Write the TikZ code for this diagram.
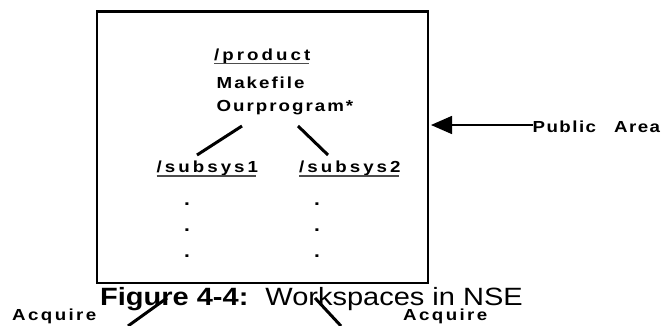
\documentclass[tikz,border=0pt]{standalone}
\usepackage{fontspec}
\setmainfont{Liberation Sans}[FakeStretch=1.16]
\newfontfamily\dirfont[LetterSpace=19,FakeStretch=1.17]{Liberation Sans}
\newfontfamily\filefont[LetterSpace=12.5,FakeStretch=1.17]{Liberation Sans}
\newfontfamily\pafont[LetterSpace=9,FakeStretch=1.17]{Liberation Sans}
\newfontfamily\acqfont[LetterSpace=15,FakeStretch=1.17]{Liberation Sans}
\usetikzlibrary{arrows.meta}
\begin{document}
\begin{tikzpicture}[x=1pt,y=-1pt,
  lbl/.style={font=\dirfont\bfseries\fontsize{16}{18}\selectfont, inner sep=0, anchor=base west},
  filelbl/.style={font=\filefont\bfseries\fontsize{16}{18}\selectfont, inner sep=0, anchor=base west},
  acqlbl/.style={font=\acqfont\bfseries\fontsize{16}{18}\selectfont, inner sep=0, anchor=base west},
  ulline/.style={draw=black!70, line width=1.8pt},
  thick line/.style={line width=3pt},
  dotnode/.style={font=\bfseries\fontsize{18}{20}\selectfont, inner sep=0, anchor=base}]
\useasboundingbox (0,0) rectangle (665,325);
\fill[white] (0,0) rectangle (665,325);
% box
\node (box) [draw, line width=2.7pt, minimum width=331pt, minimum height=271.5pt, inner sep=0] at (262.5,147.25) {};
% texts
\node (prod) [lbl] at (214,60) {/product};
\node (make) [filelbl] at (216.5,88.3) {Makefile};
\node (prog) [filelbl] at (216.5,111.7) {Ourprogram*};
\node (s1) [lbl] at (156.5,172.7) {/subsys1};
\node (s2) [lbl] at (299,172.7) {/subsys2};
\draw[ulline] ([yshift=-3.4pt]prod.base west) -- ([yshift=-3.4pt,xshift=-2pt]prod.base east);
\draw[ulline] ([yshift=-3.4pt]s1.base west) -- ([yshift=-3.4pt,xshift=-2pt]s1.base east);
\draw[ulline] ([yshift=-3.4pt]s2.base west) -- ([yshift=-3.4pt,xshift=-2pt]s2.base east);
% tree lines
\coordinate (l1a) at (242,126); \coordinate (l1b) at (197,155);
\coordinate (l2a) at (298,126); \coordinate (l2b) at (328,155);
\draw[thick line] (l1a) -- (l1b);
\draw[thick line] (l2a) -- (l2b);
% dots
\foreach \y [count=\i] in {205,231,257} {
  \node (da\i) [dotnode] at (187,\y) {.};
  \node (db\i) [dotnode] at (317,\y) {.};
}
% public area
\node (pa) [font=\pafont\bfseries\fontsize{16}{18}\selectfont, inner sep=0, anchor=base west] at (532.5,132.3) {Public\hspace{18pt}Area};
\coordinate (patip) at (431,125);
\draw[line width=1.5pt, -{Triangle[length=21pt,width=18pt]}] (pa.west |- patip) -- (patip);
% caption
\node (cap) [inner sep=0, anchor=base west, font=\fontsize{25}{30}\selectfont] at (100,305) {\textbf{Figure 4-4:}\hspace{17pt}Workspaces in NSE};
% acquire
\node (acq1) [acqlbl] at (12,320) {Acquire};
\node (acq2) [acqlbl] at (403,320) {Acquire};
\coordinate (a1a) at (128,326); \coordinate (a1b) at (167,298);
\coordinate (a2a) at (315,298); \coordinate (a2b) at (341,326);
\draw[thick line] (a1a) -- (a1b);
\draw[thick line] (a2a) -- (a2b);
\end{tikzpicture}
\end{document}
